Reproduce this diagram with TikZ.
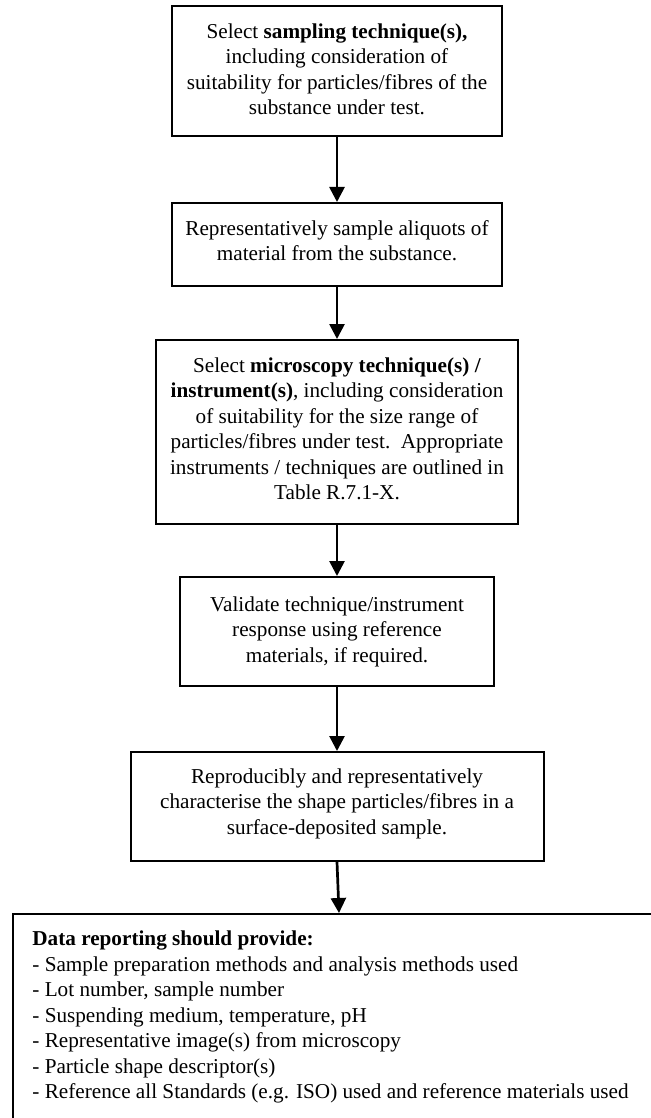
\documentclass[tikz,border=0pt]{standalone}
\usepackage{fontspec}
\setmainfont{Liberation Serif}
\usetikzlibrary{arrows.meta}
% extra depth under the last line of a box, to sit the text a little higher
\newcommand{\padbelow}[1]{\rule[-#1]{0pt}{#1}}
\begin{document}
\begin{tikzpicture}[x=0.5pt,y=-0.5pt,
  txt/.style={font=\fontsize{10.6}{12.75}\selectfont},
  flowbox/.style={draw, line width=1pt, align=center, inner sep=0pt, txt},
  flowarrow/.style={line width=1.35pt, -{Triangle[length=7.5pt,width=7.5pt]}}]
\clip (0,0) rectangle (651,1118);

% process steps
\node[flowbox, minimum width=165pt, minimum height=65pt] (b1) at (337,71)
  {Select \textbf{sampling technique(s),}\\
   including consideration of\\
   suitability for particles/fibres of the\\
   substance under test.\padbelow{2pt}};
\node[flowbox, minimum width=165pt, minimum height=41.5pt] (b2) at (337,244.5)
  {Representatively sample aliquots of\\
   material from the substance.\padbelow{4pt}};
\node[flowbox, minimum width=181pt, minimum height=92pt] (b3) at (337,432)
  {Select \textbf{microscopy technique(s) /}\\
   \textbf{instrument(s)}, including consideration\\
   of suitability for the size range of\\
   particles/fibres under test.~~Appropriate\\
   instruments / techniques are outlined in\\
   Table R.7.1-X.\padbelow{3.5pt}};
\node[flowbox, minimum width=157pt, minimum height=54.5pt] (b4) at (337,631.5)
  {Validate technique/instrument\\
   response using reference\\
   materials, if required.};
\node[flowbox, minimum width=206.5pt, minimum height=54.5pt] (b5) at (337,806.5)
  {Reproducibly and representatively\\
   characterise the shape particles/fibres in a\\
   surface-deposited sample.\padbelow{5.3pt}};

% reporting box (runs past the page edge)
\node[draw, line width=1pt, anchor=north west, inner sep=0pt,
      minimum width=344pt, minimum height=120pt] (report) at (12,913) {};
\node[txt, anchor=north west, align=left, inner sep=0pt] (reportText) at (32,930.6)
  {\textbf{Data reporting should provide:}\\
   - Sample preparation methods and analysis methods used\\
   - Lot number, sample number\\
   - Suspending medium, temperature, pH\\
   - Representative image(s) from microscopy\\
   - Particle shape descriptor(s)\\
   - Reference all Standards (e.g. ISO) used and reference materials used};

\coordinate (reportIn) at (339,913);

% connectors
\draw[flowarrow] (b1.south) -- (b2.north);
\draw[flowarrow] (b2.south) -- (b3.north);
\draw[flowarrow] (b3.south) -- (b4.north);
\draw[flowarrow] (b4.south) -- (b5.north);
\draw[flowarrow] (b5.south) -- (reportIn);
\end{tikzpicture}
\end{document}
